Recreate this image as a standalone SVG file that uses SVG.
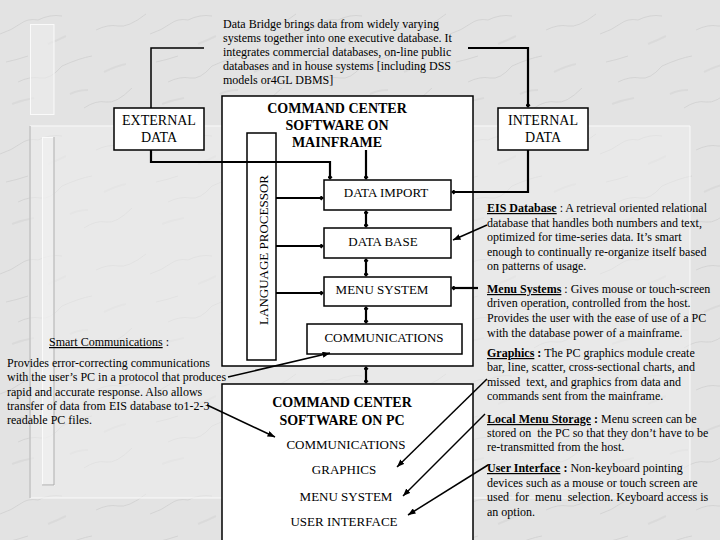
<svg xmlns="http://www.w3.org/2000/svg" width="720" height="540" viewBox="0 0 720 540">
<style>
.t{font-family:"Liberation Serif","Times New Roman",serif;font-size:12px;fill:#000}
.b{font-weight:bold}
.u{text-decoration:underline}
.box{fill:#fff;stroke:#000;stroke-width:1.5}
.lbl{font-family:"Liberation Serif","Times New Roman",serif;font-size:13px;fill:#000;text-anchor:middle}
.ttl{font-family:"Liberation Serif","Times New Roman",serif;font-size:14px;font-weight:bold;fill:#000;text-anchor:middle}
.thick{fill:none;stroke:#000;stroke-width:2.2}
.thin{fill:none;stroke:#000;stroke-width:1.5}
.panel{fill:#efefef;fill-opacity:0.5}
</style>
<defs>
<pattern id="marble" width="150" height="120" patternUnits="userSpaceOnUse">
<rect width="150" height="120" fill="#e3e3e3"/>
<path d="M0 34 Q12 30 20 24 T38 20 Q50 14 62 16 M18 82 Q30 76 40 78 T62 66 Q80 58 92 56 M84 108 Q96 100 106 102 T132 88 M6 62 Q16 60 28 56 M96 30 Q108 24 118 26 T146 14" stroke="#c4c4c4" stroke-width="0.9" fill="none" opacity="0.55"/>
<path d="M48 44 Q58 40 66 36 M104 72 Q116 66 126 64 M12 104 Q22 100 34 98 M70 94 Q78 90 88 90" stroke="#d2d2d2" stroke-width="2" fill="none" opacity="0.5"/>
</pattern>
<marker id="dot" viewBox="0 0 6 6" refX="5" refY="3" markerWidth="5" markerHeight="5" orient="auto" markerUnits="userSpaceOnUse">
<path d="M0 3 L3 0 L6 3 L3 6 Z" fill="#000"/>
</marker>
<marker id="dotS" viewBox="0 0 6 6" refX="1" refY="3" markerWidth="5" markerHeight="5" orient="auto" markerUnits="userSpaceOnUse">
<path d="M0 3 L3 0 L6 3 L3 6 Z" fill="#000"/>
</marker>
<marker id="arr" viewBox="0 0 10 8" refX="10" refY="4" markerWidth="8" markerHeight="6" orient="auto" markerUnits="userSpaceOnUse">
<path d="M0 0 L10 4 L0 8 Z" fill="#000"/>
</marker>
</defs>

<g id="background">
<rect width="720" height="540" fill="url(#marble)"/>
<rect class="panel" x="30" y="126" width="660" height="372"/>
<path d="M30 126 L690 126 L690 498 L30 498 Z" fill="none" stroke="#fafafa" stroke-width="1"/>
<path d="M30 126 L30 498" stroke="#a8a8a8" stroke-width="1"/>
<rect x="30.5" y="24.5" width="23.5" height="90" fill="#ececec" fill-opacity="0.6" stroke="#fafafa" stroke-width="1"/>
<rect x="42.5" y="137.5" width="11.5" height="348" fill="#f2f2f2" fill-opacity="0.6" stroke="#fafafa" stroke-width="1"/>
<path d="M54 137 L54 485 L42 485" stroke="#a8a8a8" fill="none" stroke-width="1"/>
</g>

<g id="intro-text">
<text class="t" x="223" y="28">Data Bridge brings data from widely varying</text>
<text class="t" x="223" y="42">systems together into one executive database. It</text>
<text class="t" x="223" y="56">integrates commercial databases, on-line public</text>
<text class="t" x="223" y="70">databases and in house systems [including DSS</text>
<text class="t" x="223" y="84">models or4GL DBMS]</text>
</g>

<g id="mainframe">
<rect class="box" x="222" y="96" width="251" height="270"/>
<text class="ttl" x="337" y="113">COMMAND CENTER</text>
<text class="ttl" x="337" y="130">SOFTWARE ON</text>
<text class="ttl" x="337" y="147">MAINFRAME</text>
</g>

<g id="language-processor">
<rect class="box" x="247" y="133" width="29" height="227"/>
<text class="lbl" transform="translate(268 250) rotate(-90)" x="0" y="0">LANGUAGE  PROCESSOR</text>
</g>

<g id="data-import">
<rect class="box" x="324" y="180" width="127" height="30"/>
<text class="lbl" x="386" y="197">DATA IMPORT</text>
</g>
<g id="data-base">
<rect class="box" x="324" y="228" width="127" height="30"/>
<text class="lbl" x="383" y="246">DATA BASE</text>
</g>
<g id="menu-system">
<rect class="box" x="324" y="277" width="127" height="29"/>
<text class="lbl" x="382" y="294">MENU SYSTEM</text>
</g>
<g id="communications">
<rect class="box" x="307" y="324" width="155" height="30"/>
<text class="lbl" x="384" y="342">COMMUNICATIONS</text>
</g>

<g id="external-data">
<rect class="box" x="114" y="108" width="90" height="42"/>
<text class="lbl" style="font-size:14px" x="159" y="125">EXTERNAL</text>
<text class="lbl" style="font-size:14px" x="159" y="142">DATA</text>
</g>
<g id="internal-data">
<rect class="box" x="498" y="108" width="90" height="42"/>
<text class="lbl" style="font-size:14px" x="543" y="125">INTERNAL</text>
<text class="lbl" style="font-size:14px" x="543" y="142">DATA</text>
</g>

<g id="pc">
<rect class="box" x="222" y="384" width="251" height="170"/>
<text class="ttl" x="342" y="407">COMMAND CENTER</text>
<text class="ttl" x="342" y="425">SOFTWARE ON PC</text>
<text class="lbl" x="346" y="449">COMMUNICATIONS</text>
<text class="lbl" x="344" y="474">GRAPHICS</text>
<text class="lbl" x="346" y="501">MENU SYSTEM</text>
<text class="lbl" x="344" y="526">USER INTERFACE</text>
</g>

<g id="smart-communications">
<text class="t" x="49" y="346"><tspan class="u">Smart Communications</tspan> :</text>
<text class="t" x="7" y="367">Provides error-correcting communications</text>
<text class="t" x="7" y="381">with the user’s PC in a protocol that produces</text>
<text class="t" x="7" y="396">rapid and accurate response. Also allows</text>
<text class="t" x="7" y="410">transfer of data from EIS database to1-2-3</text>
<text class="t" x="7" y="424">readable PC files.</text>
</g>

<g id="eis-database">
<text class="t" x="487" y="212"><tspan class="b u">EIS Database</tspan> : A retrieval oriented relational</text>
<text class="t" x="487" y="227">database that handles both numbers and text,</text>
<text class="t" x="487" y="241">optimized for time-series data. It’s smart</text>
<text class="t" x="487" y="256">enough to continually re-organize itself based</text>
<text class="t" x="487" y="270">on patterns of usage.</text>
</g>
<g id="menu-systems">
<text class="t" x="487" y="293"><tspan class="b u">Menu Systems</tspan> : Gives mouse or touch-screen</text>
<text class="t" x="487" y="307">driven operation, controlled from the host.</text>
<text class="t" x="487" y="322">Provides the user with the ease of use of a PC</text>
<text class="t" x="487" y="337">with the database power of a mainframe.</text>
</g>
<g id="graphics">
<text class="t" x="487" y="357"><tspan class="b u">Graphics</tspan><tspan class="b"> :</tspan> The PC graphics module create</text>
<text class="t" x="487" y="371">bar, line, scatter, cross-sectional charts, and</text>
<text class="t" x="487" y="386" xml:space="preserve">missed  text, and graphics from data and</text>
<text class="t" x="487" y="400">commands sent from the mainframe.</text>
</g>
<g id="local-menu-storage">
<text class="t" x="487" y="423"><tspan class="b u">Local Menu Storage</tspan><tspan class="b"> :</tspan> Menu screen can be</text>
<text class="t" x="487" y="437" xml:space="preserve">stored on  the PC so that they don’t have to be</text>
<text class="t" x="487" y="451">re-transmitted from the host.</text>
</g>
<g id="user-interface">
<text class="t" x="487" y="472"><tspan class="b u">User Interface</tspan><tspan class="b"> :</tspan> Non-keyboard pointing</text>
<text class="t" x="487" y="487">devices such as a mouse or touch screen are</text>
<text class="t" x="487" y="501" xml:space="preserve">used  for  menu  selection. Keyboard access is</text>
<text class="t" x="487" y="516">an option.</text>
</g>

<g id="connectors">
<path class="thin" d="M204 48 L151 48 L151 108"/>
<path class="thick" d="M151 150 L151 162 L330 162 L330 179" marker-end="url(#dot)"/>
<path class="thick" d="M468 48 L528 48 L528 107" marker-end="url(#dot)"/>
<path class="thick" d="M528 150 L528 192 L452 192" marker-end="url(#dot)"/>
<path class="thick" d="M366 150 L366 179" marker-end="url(#dot)"/>
<path class="thick" d="M276 198 L323 198" marker-end="url(#dot)"/>
<path class="thick" d="M276 246 L323 246" marker-end="url(#dot)"/>
<path class="thick" d="M276 293 L323 293" marker-end="url(#dot)"/>
<path class="thick" d="M366 211 L366 227" marker-start="url(#dotS)" marker-end="url(#dot)"/>
<path class="thick" d="M366 259 L366 276" marker-start="url(#dotS)" marker-end="url(#dot)"/>
<path class="thick" d="M366 307 L366 323" marker-start="url(#dotS)" marker-end="url(#dot)"/>
<path class="thick" d="M366 367 L366 383" marker-start="url(#dotS)" marker-end="url(#dot)"/>
<path class="thick" d="M478 288 L452 288" marker-end="url(#dot)"/>
<path class="thin" d="M487 225 L453 240" marker-end="url(#arr)"/>
<path class="thin" d="M228 377 L330 353" marker-end="url(#arr)"/>
<path class="thin" d="M207 405 L275 437" marker-end="url(#arr)"/>
<path class="thin" d="M487 379 L397 467" marker-end="url(#arr)"/>
<path class="thin" d="M485 414 L403 496" marker-end="url(#arr)"/>
<path class="thin" d="M488 465 L408 515" marker-end="url(#arr)"/>
</g>
</svg>
